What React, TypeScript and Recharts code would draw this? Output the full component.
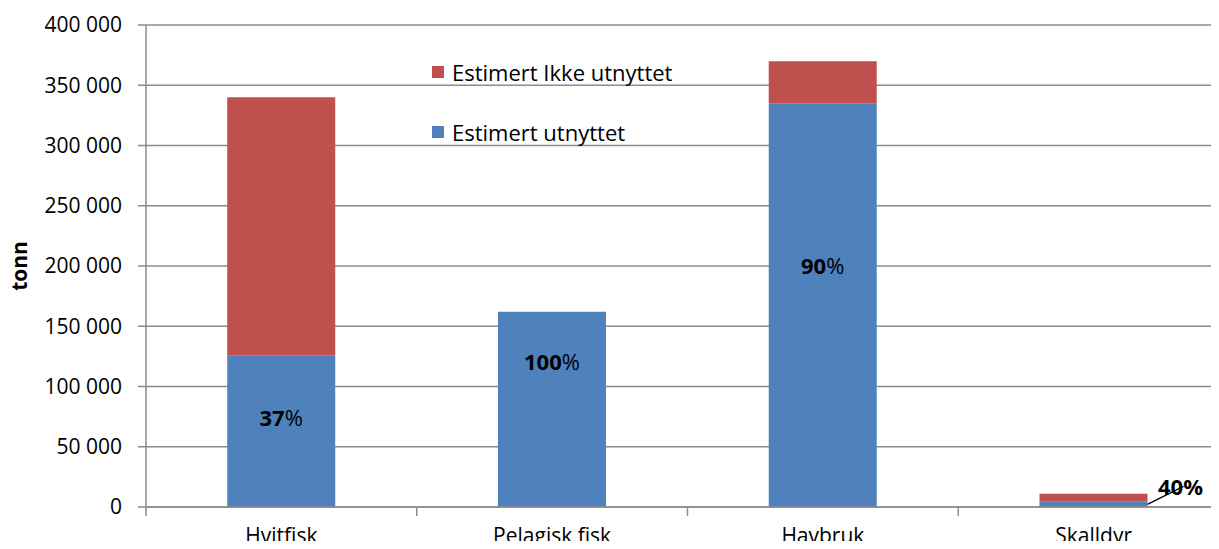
import { BarChart, Bar, XAxis, YAxis, CartesianGrid, Legend } from 'recharts';

const categories = ['Hvitfisk', 'Pelagisk fisk', 'Havbruk', 'Skalldyr'];
const utnyttet = [126000, 162000, 335000, 4400];
const ikkeUtnyttet = [214000, 0, 35000, 6600];
const shares = ['37', '100', '90', '40'];
const yTicks = [0, 50000, 100000, 150000, 200000, 250000, 300000, 350000, 400000];

const data = categories.map((name, i) => ({
  name,
  utnyttet: utnyttet[i],
  ikke: ikkeUtnyttet[i],
  share: shares[i],
}));

const BLUE = '#4F81BD';
const RED = '#C0504D';
const GRID = '#8C8C8C';
const FONT = '"Open Sans", "Liberation Sans", sans-serif';

const W = 1240;
const M = { top: 25, right: 11, bottom: 0, left: 0 };
const Y_W = 146;
const BAND = (W - M.left - M.right - Y_W) / categories.length;

// where inside the blue segment the label sits (fraction from top)
const labelFrac = [0.41, 0.25, 0.4];

const fmt = (v: number) =>
  v === 0 ? '0' : `${Math.floor(v / 1000)} ${String(v % 1000).padStart(3, '0')}`;

function ShareLabel(props: any) {
  const { x, y, width, height, index } = props;
  const txt = shares[index];
  if (index === 3) {
    // small bar: label outside with a leader line
    const x0 = x + width;
    const y0 = y + height / 2;
    const tx = x0 + 33;
    const ty = y0 - 18;
    return (
      <g>
        <text
          x={tx}
          y={ty}
          textAnchor="middle"
          dominantBaseline="central"
          fontFamily={FONT}
          fontSize={22}
          fontWeight="bold"
          fill="#000"
        >
          {txt}%
        </text>
        <line x1={x0} y1={y0} x2={tx + 3} y2={ty} stroke="#000" strokeWidth={1.3} />
      </g>
    );
  }
  return (
    <text
      x={x + width / 2}
      y={y + height * labelFrac[index]}
      textAnchor="middle"
      dominantBaseline="central"
      fontFamily={FONT}
      fontSize={22}
      fill="#000"
    >
      <tspan fontWeight="bold">{txt}</tspan>
      <tspan>%</tspan>
    </text>
  );
}

function CatTick(props: any) {
  const { x, y, payload, index } = props;
  const left = x - BAND / 2;
  return (
    <g>
      <line x1={left} y1={y} x2={left} y2={y + 9} stroke={GRID} strokeWidth={1.5} />
      {index === categories.length - 1 && (
        <line x1={x + BAND / 2} y1={y} x2={x + BAND / 2} y2={y + 9} stroke={GRID} strokeWidth={1.5} />
      )}
      <text x={x} y={y + 36} textAnchor="middle" fontFamily={FONT} fontSize={21} fill="#000">
        {payload.value}
      </text>
    </g>
  );
}

function LegendBox() {
  const items = [
    { label: 'Estimert Ikke utnyttet', color: RED },
    { label: 'Estimert utnyttet', color: BLUE },
  ];
  return (
    <div style={{ fontFamily: FONT, fontSize: 22, color: '#000' }}>
      {items.map((it) => (
        <div key={it.label} style={{ display: 'flex', alignItems: 'center', height: 30, marginBottom: 30 }}>
          <span style={{ width: 12, height: 12, background: it.color, marginRight: 8 }} />
          <span>{it.label}</span>
        </div>
      ))}
    </div>
  );
}

export default function App() {
  return (
    <div style={{ margin: -8, width: 1219, height: 549, overflow: 'hidden', background: '#fff' }}>
      <BarChart width={W} height={549} data={data} margin={M} barCategoryGap="30%">
        <CartesianGrid vertical={false} stroke={GRID} strokeWidth={1.5} />
        <XAxis
          dataKey="name"
          height={42}
          tickLine={false}
          tickSize={0}
          tickMargin={0}
          interval={0}
          axisLine={{ stroke: GRID, strokeWidth: 1.5 }}
          tick={<CatTick />}
        />
        <YAxis
          domain={[0, 400000]}
          ticks={yTicks}
          tickFormatter={fmt}
          width={Y_W}
          tickSize={8}
          tickMargin={16}
          axisLine={{ stroke: GRID, strokeWidth: 1.5 }}
          tickLine={{ stroke: GRID, strokeWidth: 1.5 }}
          tick={{ fontFamily: FONT, fontSize: 21, fill: '#000' }}
          label={{
            value: 'tonn',
            angle: -90,
            position: 'insideLeft',
            offset: 20,
            style: { fontFamily: FONT, fontSize: 21, fontWeight: 'bold', fill: '#000', textAnchor: 'middle' },
          }}
        />
        <Legend
          content={<LegendBox />}
          layout="horizontal"
          verticalAlign="middle"
          align="center"
          wrapperStyle={{ top: 57, left: 432, width: 340 }}
        />
        <Bar dataKey="utnyttet" stackId="a" fill={BLUE} isAnimationActive={false} label={<ShareLabel />} />
        <Bar dataKey="ikke" stackId="a" fill={RED} isAnimationActive={false} />
      </BarChart>
    </div>
  );
}
